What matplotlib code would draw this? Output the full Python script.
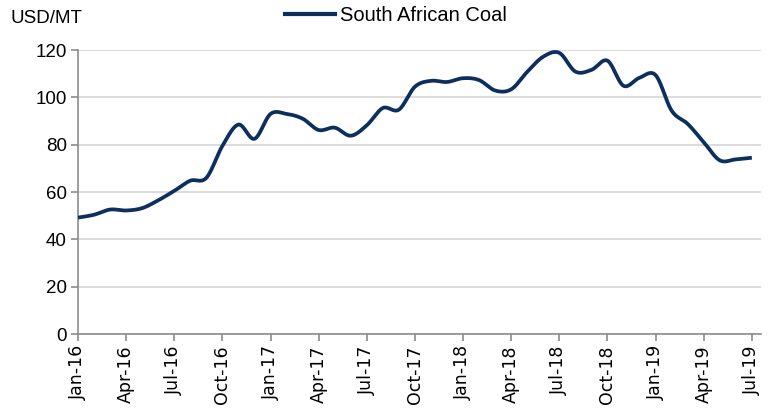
import numpy as np
import matplotlib
matplotlib.use('Agg')
import matplotlib.pyplot as plt
from matplotlib.lines import Line2D

# monthly prices, Jan-16 .. Jul-19
months = ['Jan-16', 'Feb-16', 'Mar-16', 'Apr-16', 'May-16', 'Jun-16', 'Jul-16', 'Aug-16', 'Sep-16',
          'Oct-16', 'Nov-16', 'Dec-16', 'Jan-17', 'Feb-17', 'Mar-17', 'Apr-17', 'May-17', 'Jun-17',
          'Jul-17', 'Aug-17', 'Sep-17', 'Oct-17', 'Nov-17', 'Dec-17', 'Jan-18', 'Feb-18', 'Mar-18',
          'Apr-18', 'May-18', 'Jun-18', 'Jul-18', 'Aug-18', 'Sep-18', 'Oct-18', 'Nov-18', 'Dec-18',
          'Jan-19', 'Feb-19', 'Mar-19', 'Apr-19', 'May-19', 'Jun-19', 'Jul-19']
coal = [49.2, 50.4, 52.6, 52.2, 53.2, 56.5, 60.5, 64.8, 66.0,
        79.5, 88.5, 82.5, 93.0, 93.0, 91.0, 86.2, 87.2, 83.8,
        88.2, 95.5, 94.8, 104.5, 107.0, 106.5, 108.1, 107.3, 102.9,
        103.4, 110.8, 117.2, 118.8, 110.9, 111.6, 115.5, 104.9, 108.3,
        109.4, 94.4, 88.8, 81.1, 73.4, 73.8, 74.5]
series_name = 'South African Coal'
unit_label = 'USD/MT'

navy = '#0c2f5e'
grid_c = '#d9d9d9'
axis_c = '#8c8c8c'
lab_font = ['Liberation Sans Narrow', 'Liberation Sans', 'DejaVu Sans']


def smooth(y, n=20):
    # Catmull-Rom style curve through each point (like Excel "smoothed line")
    y = np.asarray(y, dtype=float)
    x = np.arange(len(y), dtype=float)
    px = np.concatenate([[x[0]], x, [x[-1]]])
    py = np.concatenate([[y[0]], y, [y[-1]]])
    xs, ys = [], []
    t = np.linspace(0, 1, n, endpoint=False)
    for i in range(1, len(px) - 2):
        p0, p1, p2, p3 = py[i - 1], py[i], py[i + 1], py[i + 2]
        q0, q1, q2, q3 = px[i - 1], px[i], px[i + 1], px[i + 2]
        c1y, c2y = p1 + (p2 - p0) / 6, p2 - (p3 - p1) / 6
        c1x, c2x = q1 + (q2 - q0) / 6, q2 - (q3 - q1) / 6
        b0, b1, b2, b3 = (1 - t) ** 3, 3 * (1 - t) ** 2 * t, 3 * (1 - t) * t ** 2, t ** 3
        xs.append(b0 * q1 + b1 * c1x + b2 * c2x + b3 * q2)
        ys.append(b0 * p1 + b1 * c1y + b2 * c2y + b3 * p2)
    xs.append([x[-1]])
    ys.append([y[-1]])
    return np.concatenate(xs), np.concatenate(ys)


fig = plt.figure(figsize=(7.74, 4.17), dpi=100)
ax = fig.add_axes([0.1008, 0.199, 0.883, 0.681])

sx, sy = smooth(coal)
ax.plot(sx, sy, color=navy, lw=2.7, solid_capstyle='butt', zorder=3)

ax.set_xlim(0, 42.6)
ax.set_ylim(0, 120)
ax.set_yticks(range(0, 121, 20))
ax.yaxis.grid(True, color=grid_c, lw=1.3)
ax.set_axisbelow(True)

tick_pos = list(range(0, len(months), 3))
ax.set_xticks(tick_pos)
ax.set_xticklabels([months[i] for i in tick_pos], rotation=90, family='DejaVu Sans', fontsize=12.5)
for lab in ax.get_yticklabels():
    lab.set_family(lab_font)
    lab.set_fontsize(13.5)

for s in ['top', 'right']:
    ax.spines[s].set_visible(False)
for s in ['left', 'bottom']:
    ax.spines[s].set_color(axis_c)
    ax.spines[s].set_linewidth(1.2)
ax.tick_params(axis='both', colors=axis_c, length=5, width=1.2, labelcolor='black')
ax.tick_params(axis='y', pad=3)
ax.tick_params(axis='x', pad=3)

fig.text(0.013, 0.955, unit_label, family=lab_font, fontsize=13.5, va='center')
handle = Line2D([], [], color=navy, lw=3)
fig.legend([handle], [series_name], loc='center left', bbox_to_anchor=(0.368, 0.962), frameon=False,
           borderpad=0, borderaxespad=0, prop={'family': lab_font, 'size': 14.5},
           handlelength=2.5, handletextpad=0.25)

fig.savefig('out.png', dpi=100)
